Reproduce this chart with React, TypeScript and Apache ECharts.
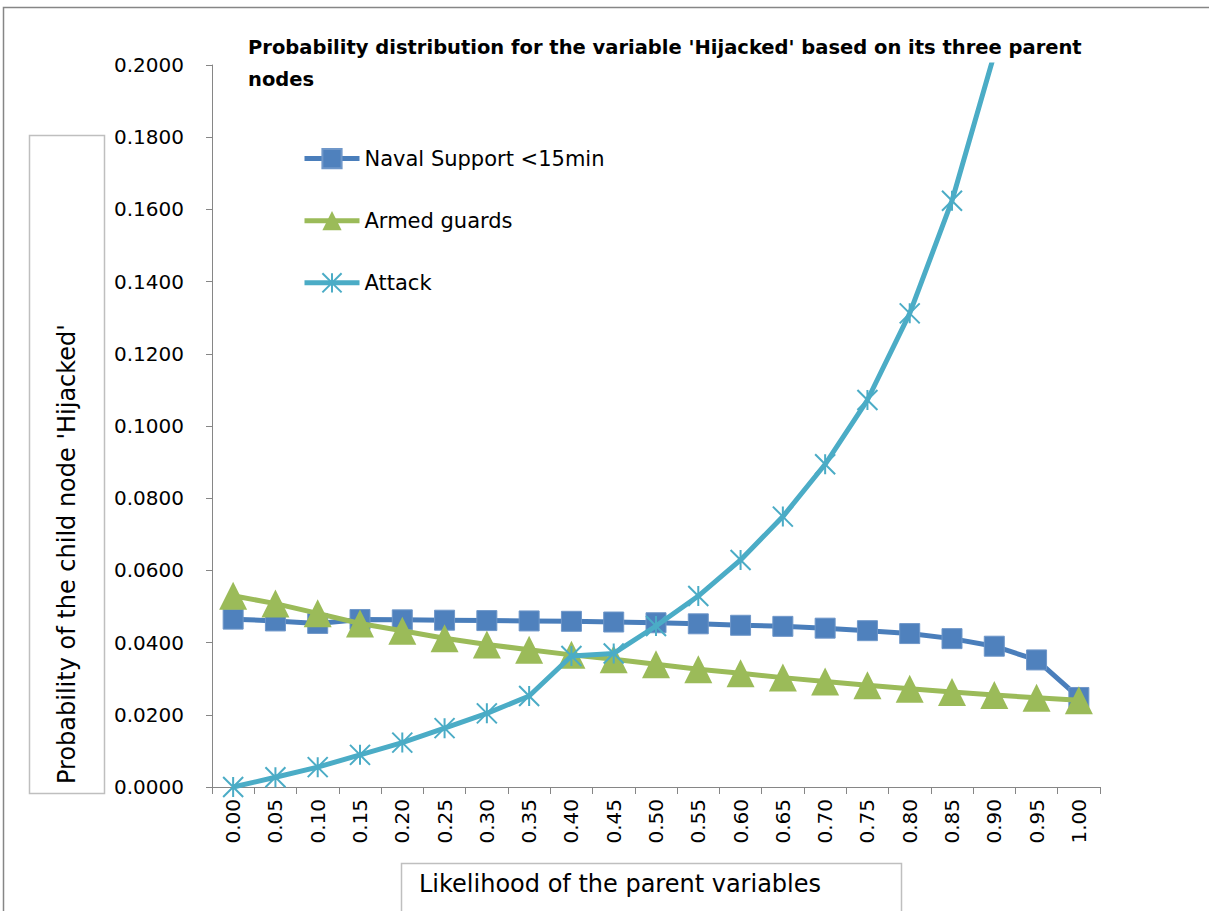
import React, { useEffect, useRef } from "react";
import * as echarts from "echarts";

const categories = [
  "0.00", "0.05", "0.10", "0.15", "0.20", "0.25", "0.30", "0.35", "0.40", "0.45", "0.50",
  "0.55", "0.60", "0.65", "0.70", "0.75", "0.80", "0.85", "0.90", "0.95", "1.00",
];

const navalSupport = [
  0.0465, 0.046, 0.0453, 0.0464, 0.0463, 0.0462, 0.0461, 0.046, 0.0459, 0.0457, 0.0455,
  0.0452, 0.0448, 0.0445, 0.044, 0.0433, 0.0425, 0.0411, 0.039, 0.0352, 0.0248,
];

const armedGuards = [
  0.053, 0.0508, 0.0481, 0.0453, 0.0433, 0.0412, 0.0395, 0.038, 0.0366, 0.0354, 0.034,
  0.0326, 0.0315, 0.0303, 0.0292, 0.0282, 0.0272, 0.0263, 0.0255, 0.0247, 0.024,
];

const attack = [
  0.0, 0.0027, 0.0055, 0.0089, 0.0123, 0.0163, 0.0204, 0.0252, 0.0363, 0.037, 0.0446,
  0.0529, 0.0629, 0.0749, 0.0894, 0.1072, 0.1312, 0.1624, 0.203, 0.255, 0.32,
];

const seriesNames = ["Naval Support <15min", "Armed guards", "Attack"];
const titleText =
  "Probability distribution for the variable 'Hijacked' based on its three parent\nnodes";
const yTitle = "Probability of the child node 'Hijacked'";
const xTitle = "Likelihood of the parent variables";

const FONT = "DejaVu Sans";
const ASTERISK = "path://M0,0L10,10M10,0L0,10M5,0L5,10";

export default function App() {
  const ref = useRef<HTMLDivElement>(null);

  useEffect(() => {
    if (!ref.current) return;
    const chart = echarts.init(ref.current, null, { renderer: "svg" });
    chart.setOption({
      animation: false,
      backgroundColor: "#ffffff",
      title: {
        text: titleText,
        left: 243,
        top: 26,
        textStyle: {
          fontFamily: FONT,
          fontWeight: "bold",
          fontSize: 19.5,
          lineHeight: 32,
          color: "#000000",
        },
      },
      legend: {
        orient: "vertical",
        left: 297,
        top: 143,
        itemWidth: 55,
        itemHeight: 24,
        itemGap: 41,
        data: seriesNames,
        lineStyle: { width: 5 },
        textStyle: { fontFamily: FONT, fontSize: 21, color: "#000000" },
      },
      grid: { left: 212, right: 109, top: 65, bottom: 124, containLabel: false },
      xAxis: {
        type: "category",
        data: categories,
        boundaryGap: true,
        axisLine: { lineStyle: { color: "#868686", width: 1 } },
        axisTick: { show: true, length: 7, lineStyle: { color: "#868686" } },
        axisLabel: {
          rotate: 90,
          margin: 12,
          interval: 0,
          fontFamily: FONT,
          fontSize: 20,
          color: "#000000",
        },
        splitLine: { show: false },
      },
      yAxis: {
        type: "value",
        min: 0,
        max: 0.2,
        interval: 0.02,
        axisLine: { show: true, lineStyle: { color: "#868686", width: 1 } },
        axisTick: { show: true, length: 6, lineStyle: { color: "#868686" } },
        axisLabel: {
          margin: 28,
          fontFamily: FONT,
          fontSize: 20,
          color: "#000000",
          formatter: (v: number) => v.toFixed(4),
        },
        splitLine: { show: false },
      },
      series: [
        {
          name: seriesNames[0],
          type: "line",
          data: navalSupport,
          symbol: "rect",
          symbolSize: 20,
          lineStyle: { color: "#4a7ebb", width: 5 },
          itemStyle: { color: "#4f81bd", borderColor: "#6f97c9", borderWidth: 1 },
          z: 3,
        },
        {
          name: seriesNames[1],
          type: "line",
          data: armedGuards,
          symbol: "triangle",
          symbolSize: 28,
          lineStyle: { color: "#9bbb59", width: 5 },
          itemStyle: { color: "#9bbb59" },
          z: 4,
        },
        {
          name: seriesNames[2],
          type: "line",
          data: attack,
          symbol: ASTERISK,
          symbolSize: 20,
          lineStyle: { color: "#4bacc6", width: 5 },
          itemStyle: { color: "#4bacc6", borderColor: "#4bacc6", borderWidth: 2 },
          z: 5,
        },
      ],
      graphic: [
        {
          type: "rect",
          shape: { x: 3.5, y: 7.5, width: 1400, height: 1100 },
          style: { fill: "none", stroke: "#868686", lineWidth: 1.5 },
          silent: true,
          z: -10,
        },
        {
          type: "rect",
          shape: { x: 29.5, y: 135.5, width: 75, height: 658 },
          style: { fill: "#ffffff", stroke: "#bfbfbf", lineWidth: 1.5 },
          silent: true,
        },
        {
          type: "text",
          x: 67,
          y: 554,
          rotation: Math.PI / 2,
          style: {
            text: yTitle,
            fontFamily: FONT,
            fontSize: 24,
            fill: "#000000",
            align: "center",
            verticalAlign: "middle",
          },
          silent: true,
        },
        {
          type: "rect",
          shape: { x: 401.5, y: 863.5, width: 500, height: 80 },
          style: { fill: "#ffffff", stroke: "#bfbfbf", lineWidth: 1.5 },
          silent: true,
        },
        {
          type: "text",
          x: 419,
          y: 884,
          style: {
            text: xTitle,
            fontFamily: FONT,
            fontSize: 24,
            fill: "#000000",
            align: "left",
            verticalAlign: "middle",
          },
          silent: true,
        },
      ],
    });
    return () => chart.dispose();
  }, []);

  return (
    <div
      ref={ref}
      style={{ position: "absolute", left: 0, top: 0, width: 1209, height: 911 }}
    />
  );
}
